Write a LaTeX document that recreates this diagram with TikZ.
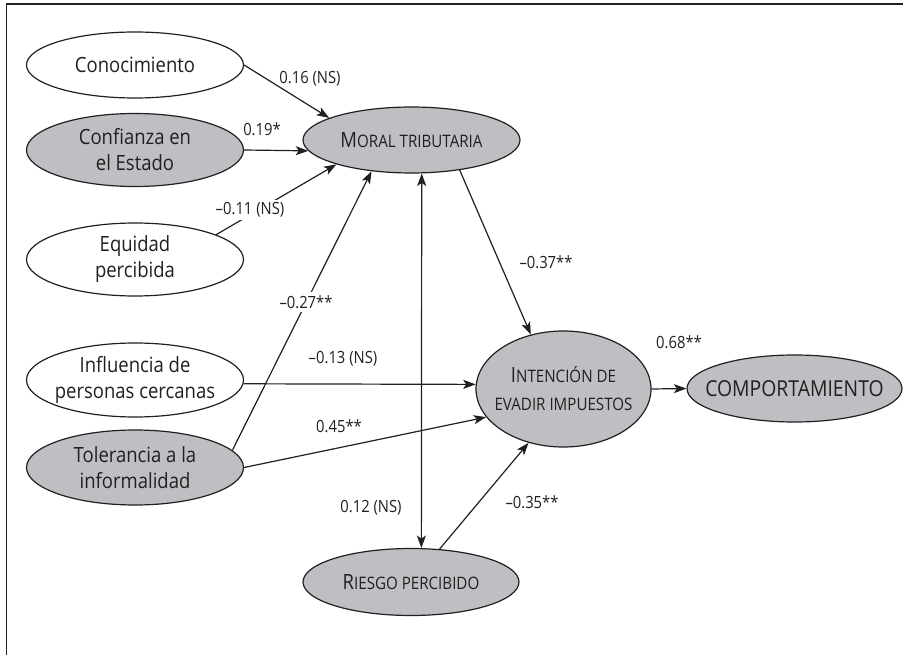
\documentclass[tikz,border=0pt]{standalone}
\usepackage{fontspec}
\setmainfont{Open Sans}[FakeStretch=0.88]
\usetikzlibrary{shapes.geometric,arrows.meta}
\definecolor{latentfill}{RGB}{190,191,194}
\definecolor{ink}{RGB}{35,31,32}
% fake small caps: first letter full size, the rest in capitals at a smaller size
\newcommand\capsmall[1]{{\fontsize{17.2}{20}\selectfont #1}}
\newcommand\fakesc[2]{#1\capsmall{#2}}

\begin{document}
\begin{tikzpicture}[x=1pt,y=-1pt,
  >={Stealth[length=12.5pt,width=9pt,inset=3pt]},
  var/.style={ellipse, draw=ink, line width=1.2pt, inner sep=0pt},
  obs/.style={var, fill=white},
  lat/.style={var, fill=latentfill},
  txt/.style={text=ink, font=\fontsize{21}{26}\selectfont, align=center, inner sep=0pt},
  coef/.style={text=ink, font=\fontsize{16.8}{20}\selectfont, inner sep=1.5pt},
  coefw/.style={coef, fill=white, inner sep=3pt},
  arr/.style={draw=ink, line width=1.2pt, ->},
  darr/.style={draw=ink, line width=1.2pt, <->},
]
\useasboundingbox (0,0) rectangle (903,655);

% frame
\draw[ink, line width=1.3pt] (903,4) -- (6.5,4) -- (6.5,655);

% variables
\node[obs, minimum width=217pt, minimum height=66pt,
      label={[txt]center:Conocimiento}] (con) at (135,65) {};
\node[lat, minimum width=217pt, minimum height=73pt,
      label={[txt]center:Confianza en\\el Estado}] (conf) at (135,150) {};
\node[obs, minimum width=217pt, minimum height=73pt,
      label={[txt]center:Equidad\\percibida}] (equ) at (135,259.5) {};
\node[obs, minimum width=217pt, minimum height=74pt,
      label={[txt]center:Influencia de\\personas cercanas}] (inf) at (135,380) {};
\node[lat, minimum width=217pt, minimum height=75pt,
      label={[txt]center:Tolerancia a la\\informalidad}] (tol) at (135,467.5) {};
\node[lat, minimum width=217pt, minimum height=66pt,
      label={[txt]center:\fakesc{M}{ORAL TRIBUTARIA}}] (mor) at (411.5,140) {};
\node[lat, minimum width=175pt, minimum height=116pt,
      label={[txt, font=\fontsize{21}{28}\selectfont]center:\fakesc{I}{NTENCIÓN DE}\\\capsmall{EVADIR IMPUESTOS}}] (int) at (563.5,389) {};
\node[lat, minimum width=215pt, minimum height=67pt,
      label={[txt, font=\fontsize{22}{26}\selectfont]center:COMPORTAMIENTO}] (comp) at (794.5,388.5) {};
\node[lat, minimum width=216pt, minimum height=67pt,
      label={[txt]center:\fakesc{R}{IESGO PERCIBIDO}}] (ris) at (411,582) {};

% paths
\draw[arr] (con.east) -- (mor.165);
\draw[arr] (conf.east) -- (mor.186);
\draw[arr] (equ.17) -- (mor.198);
\draw[arr] (tol.10) -- (mor.218);
\draw[darr] (mor.287) -- (ris.73);
\draw[arr] (mor.328) -- (int.121);
\draw[arr] (inf.-2) -- (int.177);
\draw[arr] (tol.east) -- (int.200);
\draw[arr] (ris.49) -- (int.237);
\draw[arr] (int.east) -- (comp.west);

% coefficients
\node[coef] (k1) at (310,79) {0.16 (NS)};
\node[coef] (k2) at (262,129) {0.19*};
\node[coefw] (k3) at (250,210) {–0.11 (NS)};
\node[coefw] (k4) at (306,302) {–0.27**};
\node[coef] (k5) at (546,262) {–0.37**};
\node[coef] (k6) at (343,359) {–0.13 (NS)};
\node[coef] (k7) at (339,426) {0.45**};
\node[coef] (k8) at (371,508) {0.12 (NS)};
\node[coef] (k9) at (532,502) {–0.35**};
\node[coef] (k10) at (679,342) {0.68**};
\end{tikzpicture}
\end{document}
